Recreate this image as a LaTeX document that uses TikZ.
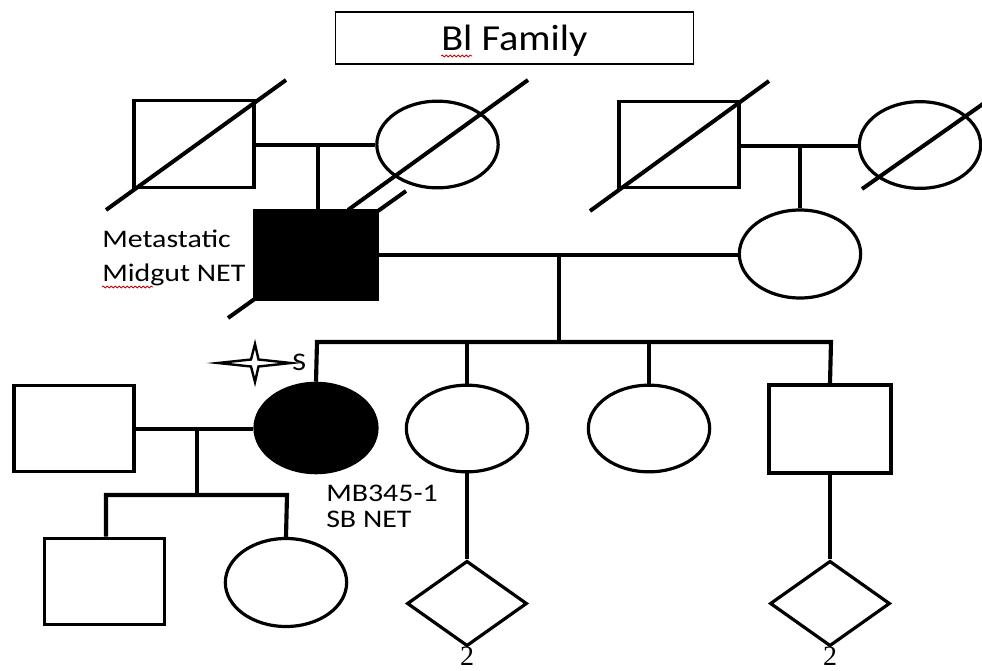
\documentclass[tikz,border=0pt]{standalone}
\usepackage{fontspec}
\setmainfont{Carlito}
\newfontfamily\lblfont[FakeStretch=1.18]{Carlito}
\newfontfamily\ttlfont[FakeStretch=1.1]{Carlito}
\newfontfamily\numfont{Liberation Serif}
\usetikzlibrary{shapes.geometric,decorations.pathmorphing}
\begin{document}
\begin{tikzpicture}[x=0.75pt,y=-0.75pt,
  person/.style={draw=black,line width=2.4pt,inner sep=0pt,fill=white},
  male/.style={person,rectangle,minimum width=90pt,minimum height=65pt},
  female/.style={person,ellipse,minimum width=91pt,minimum height=65pt},
  unknownsex/.style={person,diamond,minimum width=90pt,minimum height=64pt},
  affected/.style={fill=black},
  conn/.style={line width=3.1pt},
  slash/.style={line width=3pt},
  lbl/.style={inner sep=0pt,anchor=base west,font=\lblfont\fontsize{19pt}{21pt}\selectfont},
  numlbl/.style={inner sep=0pt,anchor=base,font=\numfont\fontsize{21pt}{23pt}\selectfont},
  wavy/.style={draw=red!80!black,line width=0.6pt,decorate,decoration={snake,amplitude=0.7pt,segment length=3pt}}]
\clip (0,0) rectangle (982,671);
\fill[white] (0,0) rectangle (982,671);

% title
\node[draw=black,line width=1.1pt,minimum width=268.5pt,minimum height=39pt,inner sep=0pt] (title) at (514.5,38) {};
\node[inner sep=0pt,anchor=base west,font=\ttlfont\fontsize{27.5pt}{30pt}\selectfont] (ttltext) at (441,50) {Bl Family};
\draw[wavy] (441,56) -- (472,56);

% deceased slashes
\draw[slash] (106,210) -- (286,80);
\draw[slash] (348,210) -- (528,80);
\draw[slash] (228,318) -- (406,191);
\draw[slash] (590,211) -- (769,81);
\draw[slash] (862,189) -- (990,99);

% generation I
\node[male,fill=none] (gf1) at (194,144) {};
\node[female,fill=none] (gm1) at (437.5,144.5) {};
\node[male,fill=none] (gf2) at (679,144.5) {};
\node[female,fill=none] (gm2) at (920,145) {};

% generation II
\node[male,affected,minimum width=91.5pt,minimum height=66pt] (father) at (316,255) {};
\node[female,minimum height=66pt] (mother) at (800,254) {};

% generation III
\node[female,affected,minimum width=91.5pt,minimum height=67pt] (proband) at (316,428) {};
\node[male] (spouse) at (74,428.5) {};
\node[female] (sib2) at (467,428.5) {};
\node[female] (sib3) at (649,428.5) {};
\node[male,minimum width=91.5pt,minimum height=66pt] (sib4) at (830,429) {};

% generation IV
\node[male] (child1) at (104.5,581.5) {};
\node[female,minimum height=66pt] (child2) at (286,582.5) {};
\node[unknownsex] (d1) at (467,603.5) {};
\node[unknownsex] (d2) at (830,603.5) {};
\node[numlbl] (n1) at (467,665) {2};
\node[numlbl] (n2) at (830,665) {2};

% connectors
\coordinate (m1) at (318,145);
\coordinate (m2) at (800,146);
\coordinate (m3) at (559,255);
\coordinate (sibL) at (317,342);
\coordinate (sibR) at (831,342);
\coordinate (m4) at (197,429);
\coordinate (csL) at (106,495);
\coordinate (csR) at (287,495);

\draw[conn] (gf1.east |- m1) -- (gm1.west |- m1);
\draw[conn] (m1) -- (m1 |- father.north);
\draw[conn] (gf2.east |- m2) -- (gm2.west |- m2);
\draw[conn] (m2) -- (mother.north);
\draw[conn] (father.east |- m3) -- (mother.west |- m3);
\draw[conn] (m3) -- (m3 |- sibL);
\draw[conn] (proband.north) -- (sibL) -- (sibR) -- (sib4.north);
\draw[conn] (sib2.north) -- (sib2.north |- sibL);
\draw[conn] (sib3.north) -- (sib3.north |- sibL);
\draw[conn] (spouse.east |- m4) -- (proband.west |- m4);
\draw[conn] (m4) -- (m4 |- csL);
\draw[conn] (child1.north -| csL) -- (csL) -- (csR) -- (child2.north);
\draw[conn] (sib2.south) -- (d1.north);
\draw[conn] (sib4.south) -- (d2.north);

% labels
\node[lbl] (lab1) at (102,247) {Metastatic};
\node[lbl] (lab2) at (102,281) {Midgut NET};
\draw[wavy] (102,287) -- (153,287);
\node[lbl] (lab3) at (326,501) {MB345-1};
\node[lbl] (lab4) at (326,527) {SB NET};

% star
\draw[line width=1.8pt,fill=white,line join=miter] (218,363) -- (251,359.5) -- (255,344) -- (258.5,359.5) -- (291,363) -- (258.5,366.5) -- (255,382) -- (251,366.5) -- cycle;
\node[lbl] (slab) at (292,370) {S};
\end{tikzpicture}
\end{document}
